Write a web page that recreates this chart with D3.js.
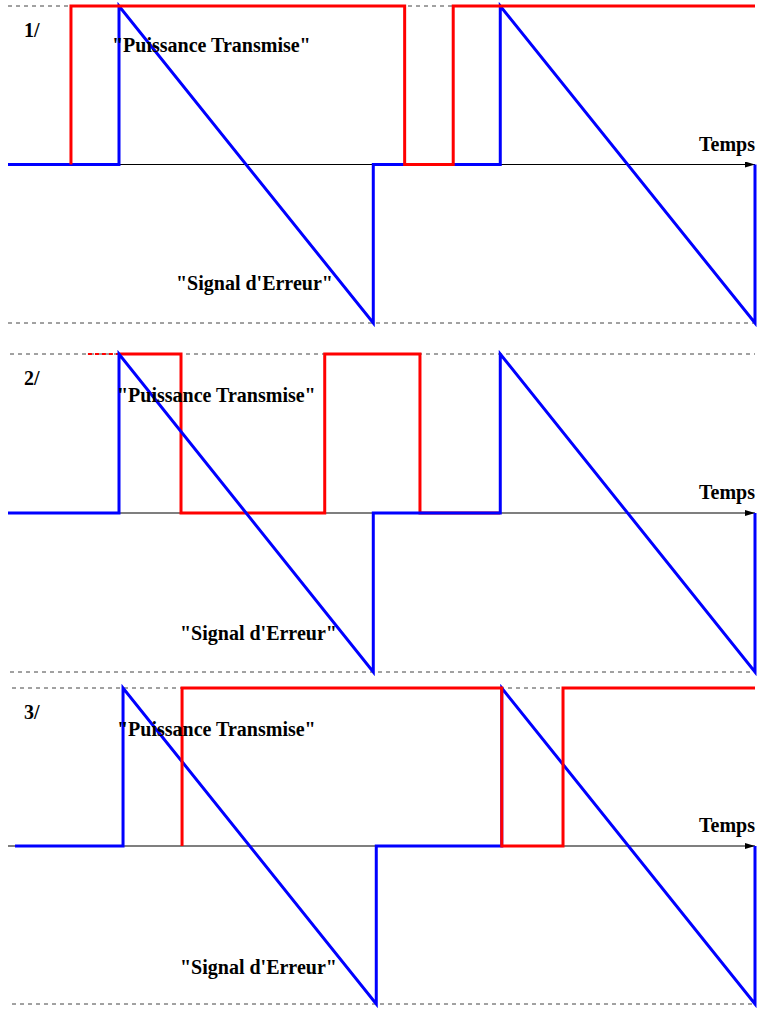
<!DOCTYPE html>
<html>
<head>
<meta charset="utf-8">
<script src="https://cdn.jsdelivr.net/npm/d3@7"></script>
<style>
  body { margin: 0; background: #fff; }
  .lbl { font-family: "Liberation Serif", "Times New Roman", serif; font-weight: bold; }
</style>
</head>
<body>
<div id="chart"></div>
<script>
// time points (0..100) and levels (-1..1)
var panelNames = ["1/", "2/", "3/"];

var blueT1 = [0, 14.86, 14.86, 48.9, 48.9, 65.9, 65.9, 100, 100];
var blueV1 = [0, 0, 1, -1, 0, 0, 1, -1, 0];
var redT1 = [8.43, 8.43, 53.1, 53.1, 59.6, 59.6, 100];
var redV1 = [0, 1, 1, 0, 0, 1, 1];

var blueT2 = [0, 14.86, 14.86, 48.9, 48.9, 65.9, 65.9, 100, 100];
var blueV2 = [0, 0, 1, -1, 0, 0, 1, -1, 0];
var redT2 = [14.86, 23.16, 23.16, 42.4, 42.4, 55.15, 55.15, 65.9];
var redV2 = [1, 1, 0, 0, 1, 1, 0, 0];
var redDashT2 = [10.7, 14.86];
var redDashV2 = [1, 1];

var blueT3 = [0.94, 15.4, 15.4, 49.3, 49.3, 66.1, 66.1, 100, 100];
var blueV3 = [0, 0, 1, -1, 0, 0, 1, -1, 0];
var redT3 = [23.3, 23.3, 66.1, 66.1, 74.3, 74.3, 100];
var redV3 = [0, 1, 1, 0, 0, 1, 1];

var zip = (t, v) => t.map((d, i) => [d, v[i]]);

var panels = [
  {name: panelNames[0], blue: zip(blueT1, blueV1), red: zip(redT1, redV1), redDash: null, blueOnTop: false,
   top: 6, bottom: 323, dashStart: 8, puis: [112, 52], sig: [176, 290]},
  {name: panelNames[1], blue: zip(blueT2, blueV2), red: zip(redT2, redV2), redDash: zip(redDashT2, redDashV2), blueOnTop: true,
   top: 354, bottom: 672, dashStart: 10, puis: [117, 402], sig: [180, 640]},
  {name: panelNames[2], blue: zip(blueT3, blueV3), red: zip(redT3, redV3), redDash: null, blueOnTop: false,
   top: 688, bottom: 1004, dashStart: 12, puis: [117, 736], sig: [180, 974]}
];

var width = 758, height = 1010;

var svg = d3.select("#chart").append("svg")
    .attr("width", width)
    .attr("height", height);

svg.append("defs").append("marker")
    .attr("id", "arrow")
    .attr("viewBox", "0 0 10 6")
    .attr("refX", 10).attr("refY", 3)
    .attr("markerWidth", 10).attr("markerHeight", 6)
    .attr("markerUnits", "userSpaceOnUse")
    .attr("orient", "auto")
  .append("path")
    .attr("d", "M0,0L10,3L0,6Z")
    .attr("fill", "#000");

var x = d3.scaleLinear().domain([0, 100]).range([8, 755]);

panels.forEach(function(p) {
    var y = d3.scaleLinear().domain([-1, 1]).range([p.bottom, p.top]);
    var line = d3.line().x(d => x(d[0])).y(d => y(d[1]));
    var g = svg.append("g");

    // dashed limits
    [1, -1].forEach(function(v) {
        g.append("line")
            .attr("x1", p.dashStart).attr("x2", x(100))
            .attr("y1", y(v)).attr("y2", y(v))
            .attr("stroke", "#444")
            .attr("stroke-width", 1)
            .attr("stroke-dasharray", "4,4");
    });

    // time axis
    g.append("line")
        .attr("x1", x(0)).attr("x2", x(100))
        .attr("y1", y(0)).attr("y2", y(0))
        .attr("stroke", "#000")
        .attr("stroke-width", 1.2)
        .attr("marker-end", "url(#arrow)");

    function drawBlue() {
        g.append("path")
            .attr("d", line(p.blue))
            .attr("fill", "none")
            .attr("stroke", "#0000ff")
            .attr("stroke-width", 3)
            .attr("stroke-linejoin", "miter");
    }

    if (!p.blueOnTop) drawBlue();

    if (p.redDash) {
        g.append("path")
            .attr("d", line(p.redDash))
            .attr("fill", "none")
            .attr("stroke", "#ff0000")
            .attr("stroke-width", 2)
            .attr("stroke-dasharray", "4,3");
    }

    g.append("path")
        .attr("d", line(p.red))
        .attr("fill", "none")
        .attr("stroke", "#ff0000")
        .attr("stroke-width", 3)
        .attr("stroke-linejoin", "miter");

    if (p.blueOnTop) drawBlue();

    g.append("text").attr("class", "lbl")
        .attr("x", 24).attr("y", y(1) + 31)
        .attr("font-size", 20)
        .text(p.name);

    g.append("text").attr("class", "lbl")
        .attr("x", p.puis[0]).attr("y", p.puis[1])
        .attr("font-size", 20)
        .text("\"Puissance Transmise\"");

    g.append("text").attr("class", "lbl")
        .attr("x", x(100)).attr("y", y(0) - 14)
        .attr("text-anchor", "end")
        .attr("font-size", 20)
        .text("Temps");

    g.append("text").attr("class", "lbl")
        .attr("x", p.sig[0]).attr("y", p.sig[1])
        .attr("font-size", 20)
        .text("\"Signal d'Erreur\"");
});
</script>
</body>
</html>
